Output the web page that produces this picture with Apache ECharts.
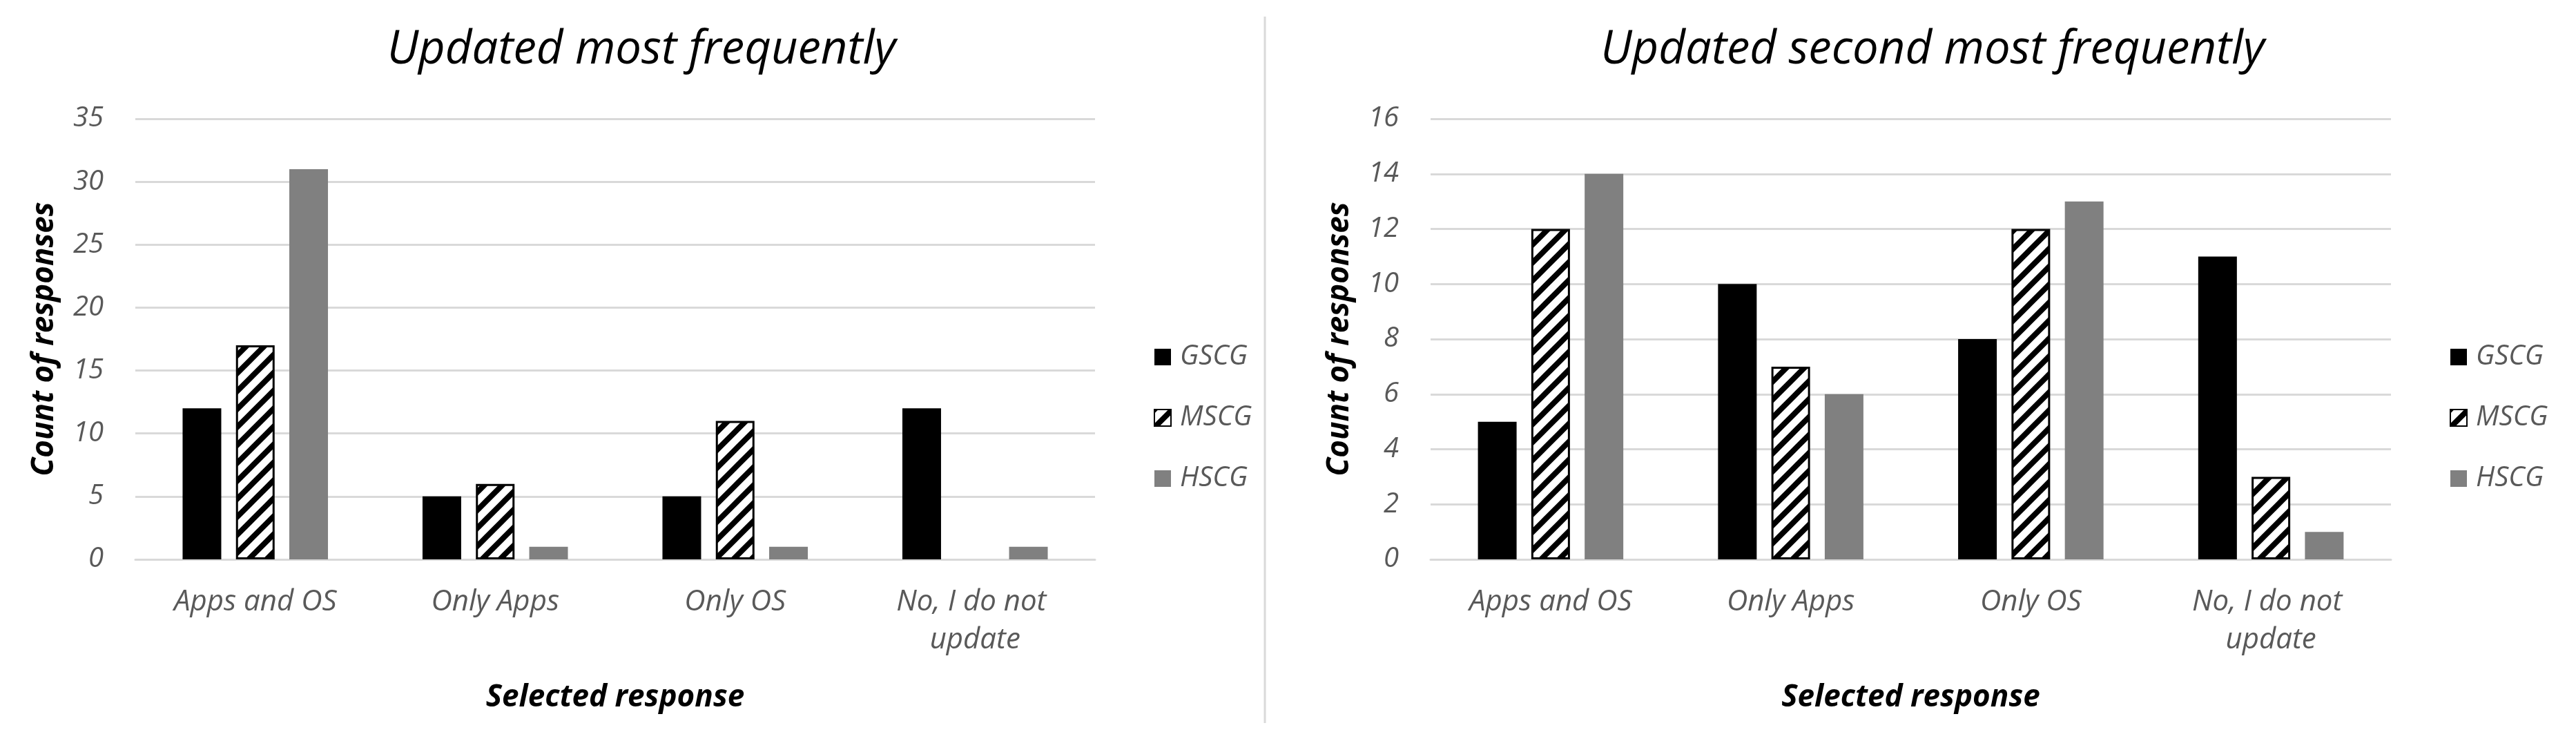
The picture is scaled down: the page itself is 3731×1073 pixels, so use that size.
<!DOCTYPE html>
<html>
<head>
<meta charset="utf-8">
<title>Update frequency by group</title>
<script src="https://cdn.jsdelivr.net/npm/echarts@6/dist/echarts.min.js"></script>
<style>
  html, body { margin: 0; padding: 0; background: #fff; }
  #main { width: 3731px; height: 1073px; }
</style>
</head>
<body>
<div id="main"></div>
<script>
// data
const categories = ['Apps and OS', 'Only Apps', 'Only OS', 'No, I do not update'];
const groups = ['GSCG', 'MSCG', 'HSCG'];

// left panel: updated most frequently
const mostGSCG = [12, 5, 5, 12];
const mostMSCG = [17, 6, 11, 0];
const mostHSCG = [31, 1, 1, 1];

// right panel: updated second most frequently
const secondGSCG = [5, 10, 8, 11];
const secondMSCG = [12, 7, 12, 3];
const secondHSCG = [14, 6, 13, 1];

const titles = ['Updated most frequently', 'Updated second most frequently'];

window.addEventListener('load', function () {
  var chart = echarts.init(document.getElementById('main'));

  var font = "'Open Sans', 'DejaVu Sans', sans-serif";
  var grayText = '#595959';
  var gridGray = '#d9d9d9';

  // hatch fill for the MSCG bars
  function makeHatch() {
    var s = 26;
    var c = document.createElement('canvas');
    c.width = s; c.height = s;
    var ctx = c.getContext('2d');
    ctx.fillStyle = '#fff';
    ctx.fillRect(0, 0, s, s);
    ctx.strokeStyle = '#000';
    ctx.lineWidth = 8;
    ctx.beginPath();
    ctx.moveTo(-s / 2, s / 2); ctx.lineTo(s / 2, -s / 2);
    ctx.moveTo(0, s); ctx.lineTo(s, 0);
    ctx.moveTo(s / 2, s * 1.5); ctx.lineTo(s * 1.5, s / 2);
    ctx.stroke();
    return c;
  }
  var hatch = { image: makeHatch(), repeat: 'repeat' };

  var styles = {
    GSCG: { color: '#000000' },
    MSCG: { color: hatch, borderColor: '#000', borderWidth: 3 },
    HSCG: { color: '#808080' }
  };

  function barSeries(name, values, idx) {
    return {
      name: name,
      type: 'bar',
      xAxisIndex: idx,
      yAxisIndex: idx,
      barWidth: 56,
      barGap: '38%',
      itemStyle: styles[name],
      data: values.map(function (v) {
        // a zero bar should not leave a border line behind
        return v === 0 ? { value: 0, itemStyle: { borderWidth: 0 } } : v;
      })
    };
  }

  var grids = [
    { left: 196, top: 172, width: 1390, height: 638 },
    { left: 2072, top: 172, width: 1391, height: 638 }
  ];

  function xAxisFor(idx) {
    return {
      type: 'category',
      gridIndex: idx,
      data: categories,
      axisLine: { show: true, lineStyle: { color: gridGray, width: 3 } },
      axisTick: { show: false },
      axisLabel: {
        interval: 0, margin: 35, color: grayText, fontFamily: font,
        fontStyle: 'italic', fontSize: 42, lineHeight: 55,
        width: 300, overflow: 'break'
      },
      name: 'Selected response',
      nameLocation: 'middle',
      nameGap: 178,
      nameTextStyle: {
        color: '#000', fontFamily: font, fontWeight: 'bold',
        fontStyle: 'italic', fontSize: 44
      }
    };
  }

  function yAxisFor(idx, max, step) {
    return {
      type: 'value',
      gridIndex: idx,
      min: 0, max: max, interval: step,
      axisLine: { show: false },
      axisTick: { show: false },
      splitLine: { lineStyle: { color: gridGray, width: 3 } },
      axisLabel: {
        margin: 46, color: grayText, fontFamily: font,
        fontStyle: 'italic', fontSize: 40
      },
      name: 'Count of responses',
      nameLocation: 'middle',
      nameRotate: 90,
      nameGap: 110,
      nameTextStyle: {
        color: '#000', fontFamily: font, fontWeight: 'bold',
        fontStyle: 'italic', fontSize: 44
      }
    };
  }

  function legendAt(x) {
    return {
      left: x, top: 495, padding: 0,
      orient: 'vertical',
      icon: 'rect',
      itemWidth: 24, itemHeight: 24, itemGap: 44,
      selectedMode: false,
      data: groups,
      textStyle: {
        color: grayText, fontFamily: font, fontStyle: 'italic',
        fontSize: 40, lineHeight: 44, padding: [0, 0, 0, 8]
      }
    };
  }

  function titleAt(text, x) {
    return {
      text: text, left: x, top: 34, textAlign: 'center',
      textStyle: {
        color: '#000', fontFamily: font, fontStyle: 'italic',
        fontWeight: 'normal', fontSize: 67
      }
    };
  }

  chart.setOption({
    animation: false,
    backgroundColor: '#fff',
    title: [titleAt(titles[0], 924), titleAt(titles[1], 2794)],
    legend: [legendAt(1671), legendAt(3548)],
    grid: grids,
    xAxis: [xAxisFor(0), xAxisFor(1)],
    yAxis: [yAxisFor(0, 35, 5), yAxisFor(1, 16, 2)],
    graphic: [{
      type: 'line',
      shape: { x1: 1832, y1: 24, x2: 1832, y2: 1047 },
      style: { stroke: gridGray, lineWidth: 3 }
    }],
    series: [
      barSeries('GSCG', mostGSCG, 0),
      barSeries('MSCG', mostMSCG, 0),
      barSeries('HSCG', mostHSCG, 0),
      barSeries('GSCG', secondGSCG, 1),
      barSeries('MSCG', secondMSCG, 1),
      barSeries('HSCG', secondHSCG, 1)
    ]
  });
});
</script>
</body>
</html>
